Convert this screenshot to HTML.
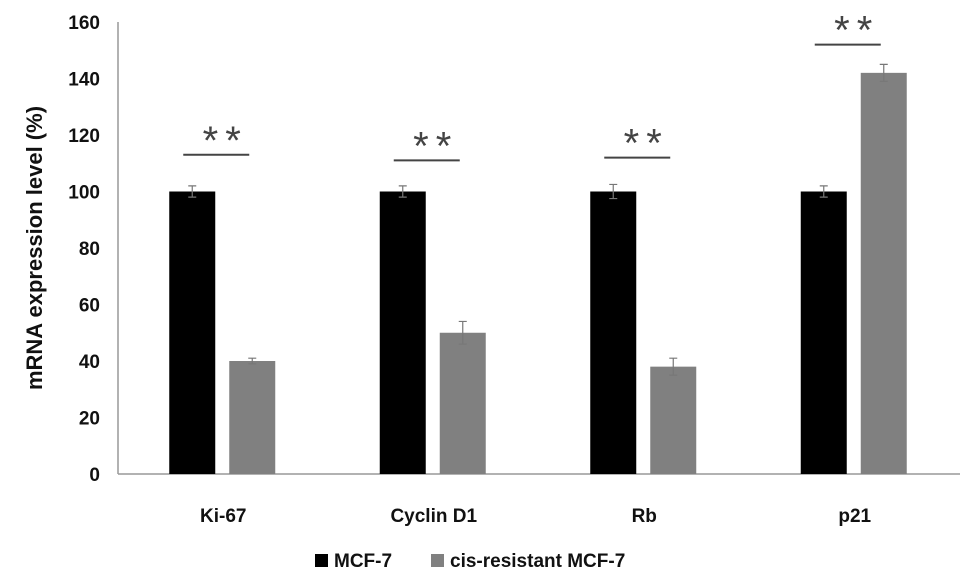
<!DOCTYPE html>
<html><head><meta charset="utf-8"><style>
html,body{margin:0;padding:0;background:#fff;}
svg text{font-family:"Liberation Sans",Arial,sans-serif;}
</style></head><body>
<svg width="969" height="581" viewBox="0 0 969 581">
<g id="plot"></g>
</svg>
<script>
const categories=["Ki-67","Cyclin D1","Rb","p21"];
const mcf7=[100,100,100,100];
const mcf7Err=[2,2,2.5,2];
const resistant=[40,50,38,142];
const resistantErr=[1,4,3,3];
const sigHeights=[113,111,112,152];
const yTicks=[0,20,40,60,80,100,120,140,160];
const NS="http://www.w3.org/2000/svg";
const g=document.getElementById('plot');
const x0=118,x1=960,yBase=474,yTop=22;
const y=v=>yBase-(v/160)*(yBase-yTop);
const catW=(x1-x0)/categories.length;
const cx=i=>x0+catW*(i+0.5);
function el(t,a,txt){const e=document.createElementNS(NS,t);for(const k in a)e.setAttribute(k,a[k]);if(txt!==undefined)e.textContent=txt;g.appendChild(e);return e;}
let e;
e=el('line',{x1:x0,y1:yTop,x2:x0,y2:yBase,stroke:'#999','stroke-width':1.5});


e=el('line',{x1:x0,y1:yBase,x2:x1,y2:yBase,stroke:'#999','stroke-width':1.5});


yTicks.forEach(t=>{
 e=el('text',{x:100,y:y(t)+7,'text-anchor':'end','font-size':19,'font-weight':'bold',fill:'#111'},t);
 
 
});
e=el('text',{x:0,y:0,transform:'translate(42,248) rotate(-90)','text-anchor':'middle','font-size':22,'font-weight':'bold',fill:'#111'},'mRNA expression level (%)');


const bw=46;
function errBar(xc,v,er){
 e=el('path',{d:`M${xc} ${y(v+er)}V${y(v-er)}M${xc-4} ${y(v+er)}H${xc+4}M${xc-4} ${y(v-er)}H${xc+4}`,stroke:'#777','stroke-width':1.2,fill:'none'});
 
 
}
categories.forEach((c,i)=>{
 const xa=cx(i)-54, xb=cx(i)+6;
 e=el('rect',{x:xa,y:y(mcf7[i]),width:bw,height:yBase-y(mcf7[i]),fill:'#000'});
 
 
 errBar(xa+bw/2,mcf7[i],mcf7Err[i]);
 e=el('rect',{x:xb,y:y(resistant[i]),width:bw,height:yBase-y(resistant[i]),fill:'#808080'});
 
 
 errBar(xb+bw/2,resistant[i],resistantErr[i]);
 const sy=y(sigHeights[i]);
 e=el('line',{x1:cx(i)-40,y1:sy,x2:cx(i)+26,y2:sy,stroke:'#444','stroke-width':2});
 
 
 e=el('text',{x:cx(i)+2,y:sy-1,'text-anchor':'middle','font-size':40,fill:'#444','letter-spacing':7},'**');
 
 
 e=el('text',{x:cx(i),y:522,'text-anchor':'middle','font-size':19,'font-weight':'bold',fill:'#111'},c);
 
 
});
e=el('rect',{x:315,y:554,width:13,height:13,fill:'#000'});


e=el('text',{x:334,y:567,'font-size':19,'font-weight':'bold',fill:'#111'},'MCF-7');


e=el('rect',{x:431,y:554,width:13,height:13,fill:'#808080'});


e=el('text',{x:450,y:567,'font-size':19,'font-weight':'bold',fill:'#111'},'cis-resistant MCF-7');


</script>
</body></html>
